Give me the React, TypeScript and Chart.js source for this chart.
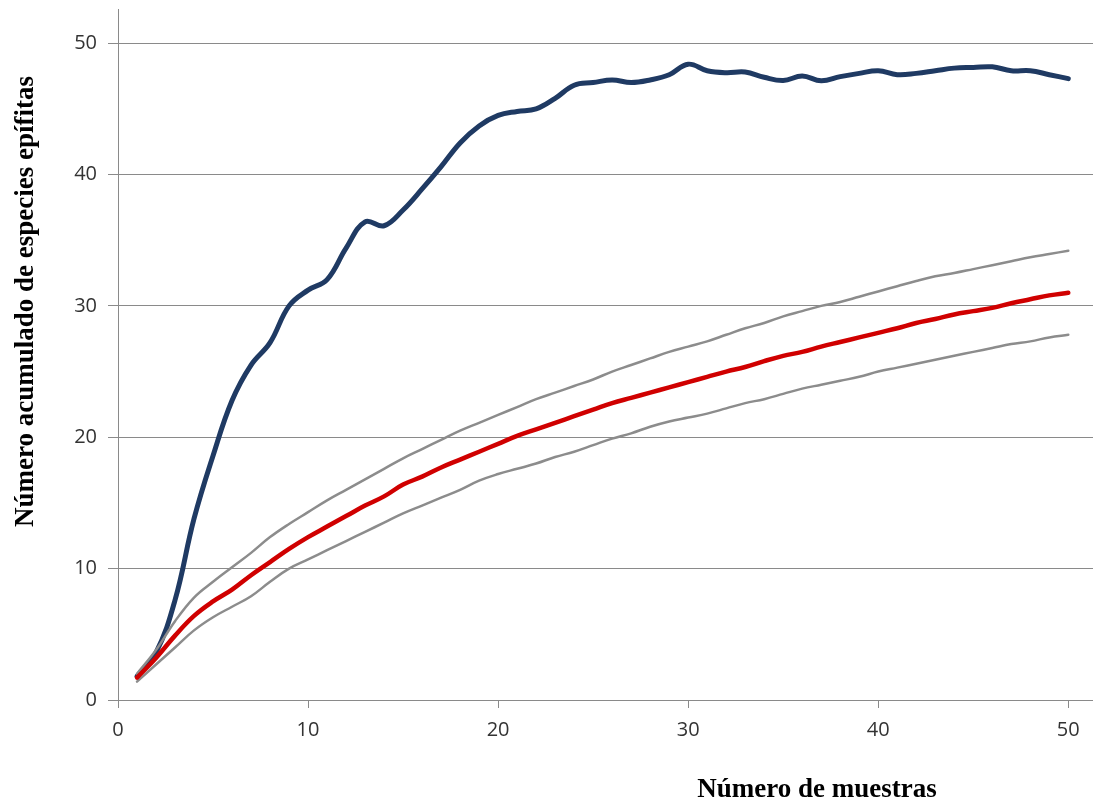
import React, { useEffect, useRef } from "react";
import { Chart, registerables } from "chart.js";

Chart.register(...registerables);

const samples = [
  1, 2, 3, 4, 5, 6, 7, 8, 9, 10, 11, 12, 13, 14, 15, 16, 17, 18, 19, 20, 21, 22, 23, 24, 25,
  26, 27, 28, 29, 30, 31, 32, 33, 34, 35, 36, 37, 38, 39, 40, 41, 42, 43, 44, 45, 46, 47, 48, 49, 50,
];

const observed = [
  1.8, 3.6, 7.6, 13.8, 18.6, 22.8, 25.5, 27.2, 30.0, 31.2, 32.0, 34.4, 36.4, 36.1, 37.3, 38.9, 40.6,
  42.4, 43.7, 44.5, 44.8, 45.0, 45.8, 46.8, 47.0, 47.2, 47.0, 47.2, 47.6, 48.4, 47.9, 47.75, 47.8, 47.4,
  47.15, 47.5, 47.13, 47.45, 47.7, 47.9, 47.6, 47.7, 47.9, 48.1, 48.15, 48.2, 47.9, 47.9, 47.6, 47.3,
];

const expected = [
  1.7, 3.2, 4.9, 6.4, 7.5, 8.4, 9.5, 10.5, 11.5, 12.4, 13.2, 14.0, 14.8, 15.5, 16.4, 17.0, 17.7, 18.3,
  18.9, 19.5, 20.1, 20.6, 21.1, 21.6, 22.1, 22.6, 23.0, 23.4, 23.8, 24.2, 24.6, 25.0, 25.35, 25.8, 26.2,
  26.5, 26.9, 27.25, 27.6, 27.95, 28.3, 28.7, 29.0, 29.35, 29.6, 29.85, 30.2, 30.5, 30.8, 31.0,
];

const upperBound = [
  2.0, 3.8, 6.0, 7.8, 9.0, 10.1, 11.2, 12.4, 13.4, 14.3, 15.2, 16.0, 16.8, 17.6, 18.4, 19.1, 19.8, 20.5,
  21.1, 21.7, 22.3, 22.9, 23.4, 23.9, 24.4, 25.0, 25.5, 26.0, 26.5, 26.9, 27.3, 27.8, 28.3, 28.7, 29.2,
  29.6, 30.0, 30.3, 30.7, 31.1, 31.5, 31.9, 32.25, 32.5, 32.8, 33.1, 33.4, 33.7, 33.95, 34.2,
];

const lowerBound = [
  1.4, 2.7, 4.0, 5.3, 6.3, 7.1, 7.9, 9.0, 10.0, 10.7, 11.4, 12.1, 12.8, 13.5, 14.2, 14.8, 15.4, 16.0,
  16.7, 17.2, 17.6, 18.0, 18.5, 18.9, 19.4, 19.9, 20.3, 20.8, 21.2, 21.5, 21.8, 22.2, 22.6, 22.9, 23.3,
  23.7, 24.0, 24.3, 24.6, 25.0, 25.3, 25.6, 25.9, 26.2, 26.5, 26.8, 27.1, 27.3, 27.6, 27.8,
];

const xTitle = "Número de muestras";
const yTitle = "Número acumulado de especies epífitas";

const toPoints = (vals: number[]) => samples.map((s, i) => ({ x: s, y: vals[i] }));

const titlesPlugin = {
  id: "axisTitles",
  afterDraw(chart: any) {
    const ctx = chart.ctx;
    ctx.save();
    ctx.fillStyle = "#000";
    ctx.font = 'bold 27px "Liberation Serif", "Times New Roman", serif';
    ctx.textAlign = "center";
    ctx.textBaseline = "alphabetic";
    ctx.fillText(xTitle, 817, 797);
    ctx.translate(32.5, 301.5);
    ctx.rotate(-Math.PI / 2);
    ctx.fillText(yTitle, 0, 0);
    ctx.restore();
  },
};

const zeroPadding = (scale: any) => {
  scale.paddingTop = 0;
  scale.paddingBottom = 0;
  scale.paddingLeft = 0;
  scale.paddingRight = 0;
};

export default function App() {
  const ref = useRef<HTMLCanvasElement | null>(null);

  useEffect(() => {
    document.body.style.margin = "0";
    if (!ref.current) return;
    const lineBase = {
      pointRadius: 0,
      pointHoverRadius: 0,
      tension: 0.4,
      fill: false,
      borderCapStyle: "round" as const,
      borderJoinStyle: "round" as const,
    };
    const chart = new Chart(ref.current, {
      type: "line",
      data: {
        datasets: [
          { ...lineBase, label: "observed", data: toPoints(observed), borderColor: "#1f3a63", borderWidth: 5, order: 4 },
          { ...lineBase, label: "upper", data: toPoints(upperBound), borderColor: "#8c8c8c", borderWidth: 2.5, order: 3 },
          { ...lineBase, label: "lower", data: toPoints(lowerBound), borderColor: "#8c8c8c", borderWidth: 2.5, order: 2 },
          { ...lineBase, label: "expected", data: toPoints(expected), borderColor: "#d00000", borderWidth: 4.5, order: 1 },
        ],
      },
      options: {
        animation: false,
        responsive: true,
        maintainAspectRatio: false,
        layout: { padding: { top: 9, right: 0, left: 0, bottom: 0 } },
        plugins: { legend: { display: false }, tooltip: { enabled: false } },
        scales: {
          x: {
            type: "linear",
            min: 0,
            max: 51.3,
            afterBuildTicks: (scale: any) => {
              scale.ticks = scale.ticks.filter((t: any) => t.value % 10 === 0);
            },
            afterFit: (scale: any) => {
              scale.height = 101;
              zeroPadding(scale);
            },
            ticks: {
              stepSize: 10,
              includeBounds: false,
              padding: 10,
              color: "#333",
              font: { family: '"Open Sans", sans-serif', size: 20 },
              maxRotation: 0,
              autoSkip: false,
            },
            grid: { drawOnChartArea: false, drawTicks: true, tickLength: 8, color: "#8a8a8a", lineWidth: 1 },
            border: { display: true, color: "#8a8a8a", width: 1 },
          },
          y: {
            type: "linear",
            min: 0,
            max: 52.6,
            afterBuildTicks: (scale: any) => {
              scale.ticks = scale.ticks.filter((t: any) => t.value % 10 === 0);
            },
            afterFit: (scale: any) => {
              scale.width = 118;
              zeroPadding(scale);
            },
            ticks: {
              stepSize: 10,
              includeBounds: false,
              padding: 11,
              color: "#333",
              font: { family: '"Open Sans", sans-serif', size: 20 },
              autoSkip: false,
            },
            grid: { drawOnChartArea: true, drawTicks: true, tickLength: 10, color: "#8a8a8a", lineWidth: 1 },
            border: { display: true, color: "#8a8a8a", width: 1 },
          },
        },
      },
      plugins: [titlesPlugin],
    });
    return () => chart.destroy();
  }, []);

  return (
    <div style={{ position: "absolute", left: 0, top: 0, width: 1093, height: 801 }}>
      <canvas ref={ref} />
    </div>
  );
}
